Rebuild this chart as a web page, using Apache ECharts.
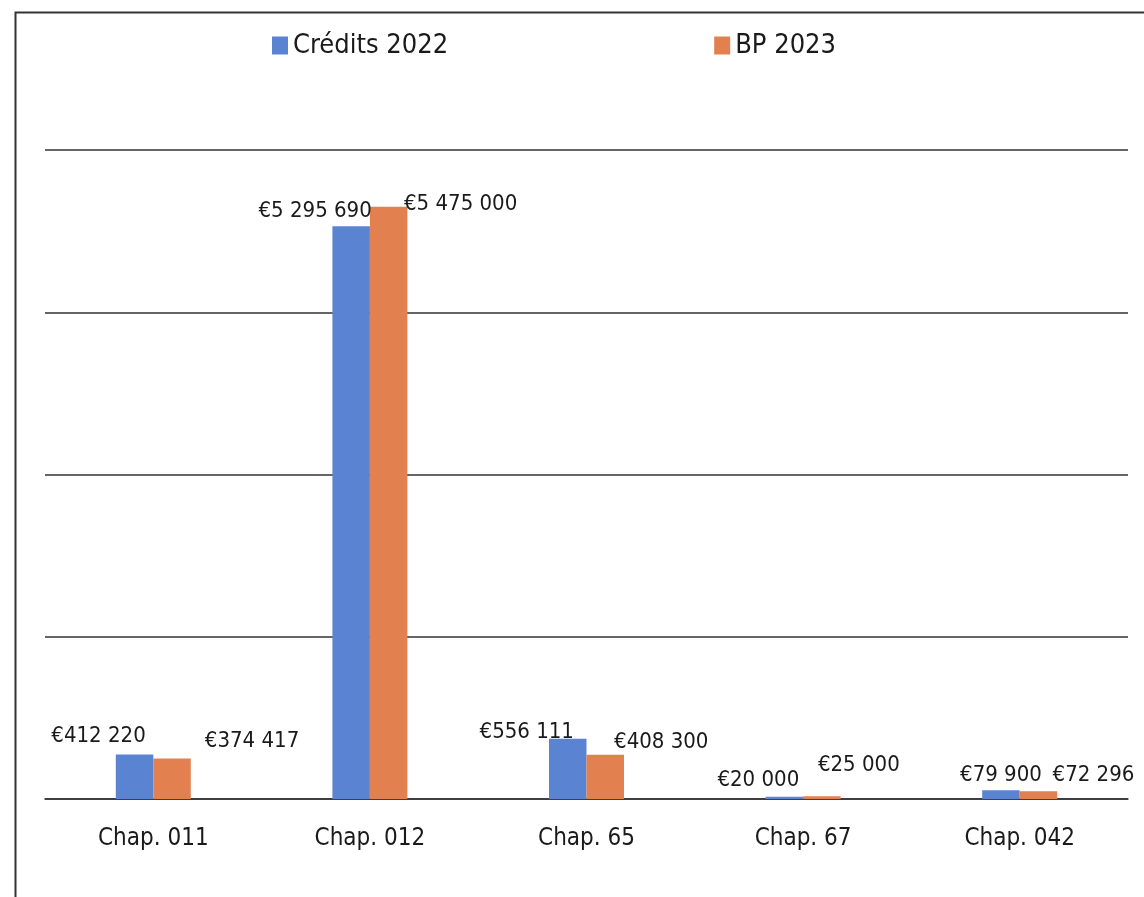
<!DOCTYPE html>
<html>
<head>
<meta charset="utf-8">
<script src="https://cdn.jsdelivr.net/npm/echarts@6/dist/echarts.min.js"></script>
<style>
html,body{margin:0;padding:0;background:#fff;}
#chart{width:1144px;height:897px;}
</style>
</head>
<body>
<div id="chart"></div>
<script>
const categories = ['Chap. 011', 'Chap. 012', 'Chap. 65', 'Chap. 67', 'Chap. 042'];
const seriesNames = ['Crédits 2022', 'BP 2023'];
const credits2022 = [412220, 5295690, 556111, 20000, 79900];
const bp2023 = [374417, 5475000, 408300, 25000, 72296];

// label placement offsets (manually moved labels in the original)
const creditsLabelOffsets = [[-36, -7], [-36, -4], [-41, 4], [-26, -6], [0, -4]];
const bpLabelOffsets = [[80, -6], [72, 8], [56, -2], [37, -20], [55, -5]];

const FONT = '"DejaVu Sans Condensed", "Liberation Sans Narrow", sans-serif';

function fmt(v) {
  return '€' + String(v).replace(/\B(?=(\d{3})+(?!\d))/g, ' ');
}

function build(values, offsets) {
  return values.map((v, i) => ({
    value: v,
    label: { offset: offsets[i] }
  }));
}

const chart = echarts.init(document.getElementById('chart'));
const labelStyle = {
  show: true,
  position: 'top',
  distance: 0,
  fontFamily: FONT,
  fontSize: 22,
  color: '#1a1a1a',
  formatter: p => fmt(p.value)
};

chart.setOption({
  animation: false,
  backgroundColor: '#fff',
  graphic: [{
    type: 'rect',
    left: 13, top: 10,
    shape: { width: 1150, height: 900 },
    style: { fill: 'none', stroke: '#333', lineWidth: 2 },
    z: 100
  }],
  legend: {
    data: seriesNames,
    left: 272,
    top: 32,
    padding: 0,
    itemWidth: 16,
    itemHeight: 18,
    itemGap: 266,
    textStyle: { fontFamily: FONT, fontSize: 27, color: '#1a1a1a' },
    icon: 'rect'
  },
  grid: { left: 45, right: 16, top: 150, bottom: 98, containLabel: false },
  xAxis: {
    type: 'category',
    data: categories,
    axisLine: { show: true, lineStyle: { color: '#333', width: 1.5 } },
    axisTick: { show: false },
    axisLabel: { fontFamily: FONT, fontSize: 24, color: '#1a1a1a', margin: 28 }
  },
  yAxis: {
    type: 'value',
    min: 0,
    max: 6000000,
    interval: 1500000,
    axisLabel: { show: false },
    axisLine: { show: false },
    axisTick: { show: false },
    splitLine: { lineStyle: { color: '#333', width: 1.5 } }
  },
  series: [
    {
      name: seriesNames[0],
      type: 'bar',
      data: build(credits2022, creditsLabelOffsets),
      barWidth: 37.5,
      barGap: '0%',
      itemStyle: { color: '#5a84d2' },
      label: labelStyle
    },
    {
      name: seriesNames[1],
      type: 'bar',
      data: build(bp2023, bpLabelOffsets),
      barWidth: 37.5,
      barGap: '0%',
      itemStyle: { color: '#e3804f' },
      label: labelStyle
    }
  ]
});
</script>
</body>
</html>
